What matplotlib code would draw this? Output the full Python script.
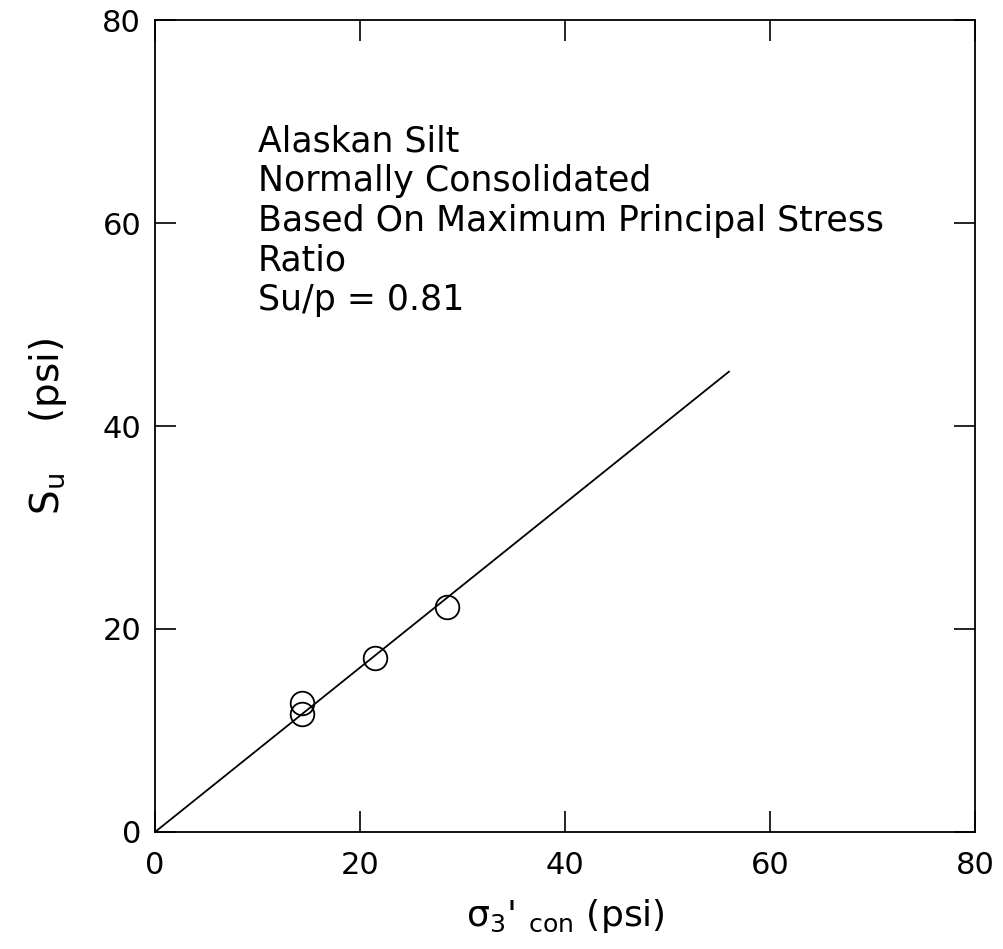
import matplotlib
matplotlib.use("Agg")
import matplotlib.pyplot as plt
import numpy as np

# measured undrained strength vs consolidation stress
sigma3_con = [14.3, 14.3, 21.5, 28.5]
s_u = [12.7, 11.6, 17.1, 22.2]

su_p_ratio = 0.81
line_x_end = 56.0

notes = ["Alaskan Silt",
         "Normally Consolidated",
         "Based On Maximum Principal Stress",
         "Ratio",
         "Su/p = 0.81"]

ticks = [0, 20, 40, 60, 80]

plt.rcParams['font.family'] = ['DejaVu Sans']
plt.rcParams['mathtext.fontset'] = 'dejavusans'

fig = plt.figure(figsize=(10.04, 9.49), dpi=100)
ax = fig.add_axes([0.1544, 0.1233, 0.8167, 0.8556])

x_fit = np.array([0.0, line_x_end])
ax.plot(x_fit, su_p_ratio * x_fit, color='black', lw=1.3)
ax.plot(sigma3_con, s_u, 'o', ms=17, mfc='none', mec='black', mew=1.3)

ax.set_xlim(0, 80)
ax.set_ylim(0, 80)
ax.set_xticks(ticks)
ax.set_yticks(ticks)
ax.tick_params(direction='in', length=15, width=1.2, top=True, right=True,
               labelsize=22, pad=10)
ax.tick_params(axis='x', pad=14)
for s in ax.spines.values():
    s.set_linewidth(1.3)

ax.set_xlabel("\u03c3$_3$' $_{\\rm con}$ (psi)", fontsize=26, labelpad=12)
ax.set_ylabel("S$_{\\rm u}$    (psi)", fontsize=28, labelpad=24)

for i, line in enumerate(notes):
    ax.text(10.0, 68.0 - i * 3.9, line, fontsize=25, va='center', ha='left')

fig.savefig("out.png", dpi=100)
